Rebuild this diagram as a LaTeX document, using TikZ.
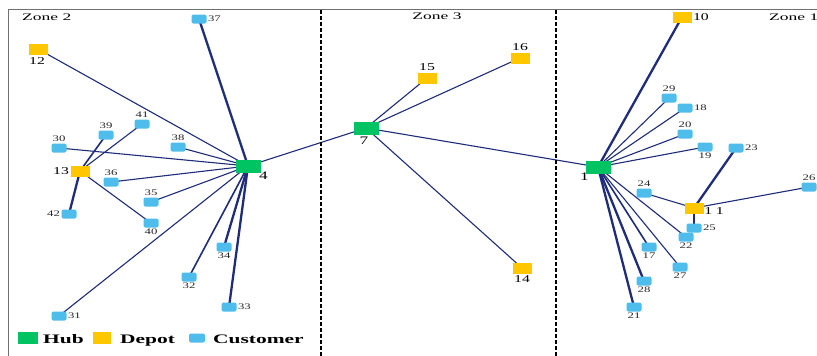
\documentclass[tikz,border=0pt]{standalone}
\usepackage{fontspec}
\setmainfont{Liberation Serif}
\newfontfamily\lblfont[FakeStretch=1.5]{Liberation Serif}
\newfontfamily\zonefont[FakeStretch=1.75]{Liberation Serif}
\newfontfamily\legfont[FakeStretch=1.65]{Liberation Serif}
\usetikzlibrary{backgrounds}
\definecolor{cblue}{HTML}{4FBDEB}
\definecolor{dyel}{HTML}{FFC700}
\definecolor{hgreen}{HTML}{00C462}
\definecolor{edgec}{HTML}{1E2C7A}
\definecolor{framec}{HTML}{707070}
\tikzset{
  cust/.style={fill=cblue, rounded corners=2pt, minimum width=15pt, minimum height=9pt, inner sep=0pt},
  depot/.style={fill=dyel, minimum width=19pt, minimum height=11pt, inner sep=0pt},
  hub/.style={fill=hgreen, minimum width=25pt, minimum height=13pt, inner sep=0pt},
  cl/.style={font=\lblfont\fontsize{8.5}{9}\selectfont, text=black!85, inner sep=1.2pt},
  dl/.style={font=\lblfont\fontsize{10.5}{12}\selectfont, inner sep=1.2pt},
  hl/.style={font=\lblfont\fontsize{11.5}{13}\selectfont, inner sep=1pt},
  edge/.style={draw=edgec, line width=1.1pt},
  medge/.style={draw=edgec, line width=1.6pt},
  tedge/.style={draw=edgec, line width=2.3pt},
  zonesep/.style={draw=black, line width=1.8pt, dash pattern=on 4pt off 2pt},
  zonelbl/.style={font=\zonefont\fontsize{10}{11}\selectfont, inner sep=0pt},
  legtxt/.style={font=\legfont\fontsize{13}{14}\selectfont\bfseries, anchor=base west, inner sep=0pt}
}
\begin{document}
\begin{tikzpicture}[x=1pt,y=-1pt]
\useasboundingbox (0,0) rectangle (817,356);
\begin{scope}[on background layer]
\fill[white] (0,0) rectangle (817,356);
\end{scope}
% frame
\draw[framec, line width=0.8pt] (8,356) -- (8,9) -- (817,9);
% zone separators
\draw[zonesep] (321,10) -- (321,356);
\draw[zonesep] (556,10) -- (556,356);
% zone labels
\node[zonelbl, anchor=west] (z2) at (22,17) {Zone 2};
\node[zonelbl] (z3) at (437,16) {Zone 3};
\node[zonelbl, anchor=west] (z1) at (769,17) {Zone 1};

% Zone 2
\node[hub] (n4) at (248,166) {};
\node[hl, anchor=north west] (l4) at (258,171) {4};
\node[cust, label={[cl]right:37}] (n37) at (199,19) {};
\node[depot] (n12) at (38,49) {};
\node[dl] (l12) at (37,61) {12};
\node[cust, label={[cl]above:41}] (n41) at (142,124) {};
\node[cust, label={[cl]above:39}] (n39) at (106,135) {};
\node[cust, label={[cl]above:30}] (n30) at (59,148) {};
\node[cust, label={[cl]above:38}] (n38) at (178,147) {};
\node[depot, label={[dl]left:13}] (n13) at (80,171) {};
\node[cust, label={[cl]above:36}] (n36) at (111,182) {};
\node[cust, label={[cl]above:35}] (n35) at (151,202) {};
\node[cust, label={[cl]left:42}] (n42) at (69,214) {};
\node[cust, label={[cl]below:40}] (n40) at (151,223) {};
\node[cust, label={[cl]below:34}] (n34) at (224,247) {};
\node[cust, label={[cl]below:32}] (n32) at (189,277) {};
\node[cust, label={[cl]right:33}] (n33) at (229,307) {};
\node[cust, label={[cl]right:31}] (n31) at (59,316) {};

% Zone 3
\node[hub] (n7) at (366,128) {};
\node[hl] (l7) at (364,141) {7};
\node[depot, label={[dl]above:15}] (n15) at (427,78) {};
\node[depot, label={[dl]above:16}] (n16) at (520,58) {};
\node[depot, label={[dl]below:14}] (n14) at (522,268) {};

% Zone 1
\node[hub] (n1) at (598,167) {};
\node[hl, anchor=north east] (l1) at (590,172) {1};
\node[depot, label={[dl]right:10}] (n10) at (682,17) {};
\node[cust, label={[cl]above:29}] (n29) at (669,98) {};
\node[cust, label={[cl]right:18}] (n18) at (685,108) {};
\node[cust, label={[cl]above:20}] (n20) at (685,134) {};
\node[cust, label={[cl]below:19}] (n19) at (705,147) {};
\node[cust, label={[cl]right:23}] (n23) at (736,148) {};
\node[cust, label={[cl]above:24}] (n24) at (644,193) {};
\node[cust, label={[cl]above:26}] (n26) at (809,187) {};
\node[depot] (n11) at (694,208) {};
\node[dl, anchor=north west] (l11) at (703,206) {1\,\,1};
\node[cust, label={[cl]right:25}] (n25) at (694,228) {};
\node[cust, label={[cl]below:22}] (n22) at (686,237) {};
\node[cust, label={[cl]below:17}] (n17) at (649,247) {};
\node[cust, label={[cl]below:27}] (n27) at (680,267) {};
\node[cust, label={[cl]below:28}] (n28) at (644,281) {};
\node[cust, label={[cl]below:21}] (n21) at (634,307) {};

% edges
\begin{scope}[on background layer]
\path[tedge] (n4.center) -- (n37.center);
\path[edge] (n4.center) -- (n12.center);
\path[edge] (n4.center) -- (n38.center);
\path[edge] (n4.center) -- (n30.center);
\path[edge] (n4.center) -- (n36.center);
\path[edge] (n4.center) -- (n35.center);
\path[edge] (n4.center) -- (n31.center);
\path[medge] (n4.center) -- (n32.center);
\path[tedge] (n4.center) -- (n34.center);
\path[tedge] (n4.center) -- (n33.center);
\path[medge] (n13.center) -- (n39.center);
\path[edge] (n13.center) -- (n41.center);
\path[tedge] (n13.center) -- (n42.center);
\path[edge] (n13.center) -- (n40.center);
\path[edge] (n4.center) -- (n7.center);
\path[edge] (n7.center) -- (n15.center);
\path[edge] (n7.center) -- (n16.center);
\path[edge] (n7.center) -- (n14.center);
\path[edge] (n7.center) -- (n1.center);
\path[tedge] (n1.center) -- (n10.center);
\path[edge] (n1.center) -- (n29.center);
\path[edge] (n1.center) -- (n18.center);
\path[edge] (n1.center) -- (n20.center);
\path[edge] (n1.center) -- (n19.center);
\path[edge] (n1.center) -- (n22.center);
\path[medge] (n1.center) -- (n17.center);
\path[edge] (n1.center) -- (n27.center);
\path[tedge] (n1.center) -- (n28.center);
\path[tedge] (n1.center) -- (n21.center);
\path[tedge] (n11.center) -- (n23.center);
\path[edge] (n11.center) -- (n24.center);
\path[edge] (n11.center) -- (n26.center);
\path[tedge] (n11.center) -- (n25.center);
\end{scope}

% legend
\node[fill=hgreen, minimum width=20pt, minimum height=12pt, inner sep=0pt] (lg1) at (28,338) {};
\node[legtxt] (lt1) at (43,343) {Hub};
\node[fill=dyel, minimum width=18pt, minimum height=12pt, inner sep=0pt] (lg2) at (102,338) {};
\node[legtxt] (lt2) at (120,343) {Depot};
\node[cust, minimum width=16pt, minimum height=9pt] (lg3) at (197,338) {};
\node[legtxt] (lt3) at (213,343) {Customer};
\end{tikzpicture}
\end{document}
